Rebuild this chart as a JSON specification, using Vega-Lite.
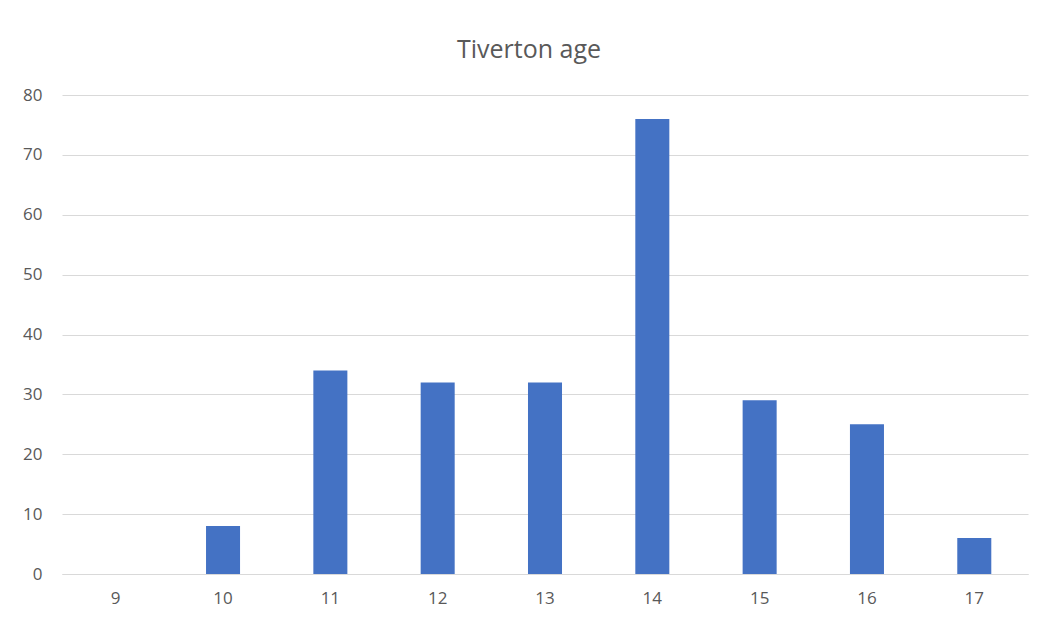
{
  "$schema": "https://vega.github.io/schema/vega-lite/v6.json",
  "autosize": {"type": "none"},
  "width": 966,
  "height": 479,
  "padding": {"left": 62, "top": 95, "right": 15, "bottom": 50},
  "background": "white",
  "title": {
    "text": "Tiverton age",
    "font": "Open Sans",
    "fontSize": 25,
    "fontWeight": "normal",
    "color": "#595959",
    "anchor": "middle",
    "dx": -16,
    "offset": 23
  },
  "data": {
    "values": [
      {"age": "9", "count": 0},
      {"age": "10", "count": 8},
      {"age": "11", "count": 34},
      {"age": "12", "count": 32},
      {"age": "13", "count": 32},
      {"age": "14", "count": 76},
      {"age": "15", "count": 29},
      {"age": "16", "count": 25},
      {"age": "17", "count": 6}
    ]
  },
  "mark": {"type": "bar", "color": "#4472C4"},
  "encoding": {
    "x": {
      "field": "age",
      "type": "ordinal",
      "sort": null,
      "scale": {"paddingInner": 0.683, "paddingOuter": 0.342},
      "axis": {
        "title": null,
        "labelAngle": 0,
        "ticks": false,
        "domainColor": "#D9D9D9",
        "domainWidth": 1,
        "labelFont": "Open Sans",
        "labelFontSize": 17,
        "labelColor": "#595959",
        "labelPadding": 16,
        "grid": false
      }
    },
    "y": {
      "field": "count",
      "type": "quantitative",
      "scale": {"domain": [0, 80], "nice": false},
      "axis": {
        "title": null,
        "values": [0, 10, 20, 30, 40, 50, 60, 70, 80],
        "ticks": false,
        "domain": false,
        "gridColor": "#D9D9D9",
        "gridWidth": 1,
        "labelFont": "Open Sans",
        "labelFontSize": 17,
        "labelColor": "#595959",
        "labelPadding": 20
      }
    }
  },
  "config": {"view": {"stroke": null}}
}
